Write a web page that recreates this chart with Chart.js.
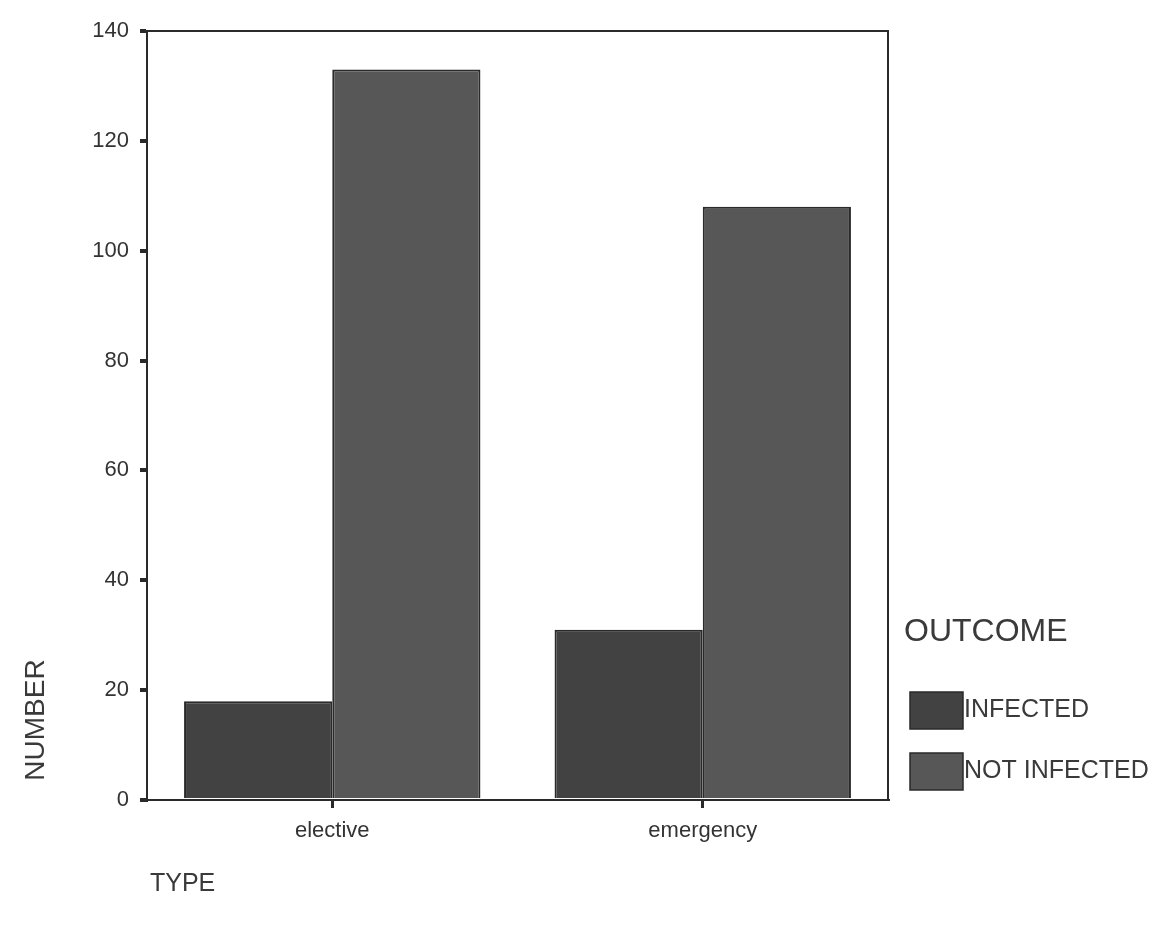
<!DOCTYPE html>
<html>
<head>
<meta charset="utf-8">
<script src="https://cdn.jsdelivr.net/npm/chart.js@4.4.0/dist/chart.umd.min.js"></script>
<style>
  body { margin: 0; background: #ffffff; }
  #wrap { width: 1166px; height: 930px; }
</style>
</head>
<body>
<div id="wrap"><canvas id="outcome-chart" width="1166" height="930"></canvas></div>
<script>
// values
const categories = ["elective", "emergency"];
const infected = [18, 31];
const not_infected = [133, 108];
const y_ticks = [0, 20, 40, 60, 80, 100, 120, 140];

const legend_title = "OUTCOME";
const series_names = ["INFECTED", "NOT INFECTED"];
const series_colors = ["#424242", "#575757"];

const ink = "#2a2a2a";
const font_family = "'Liberation Sans', Arial, sans-serif";

// box round the plot, axis titles and the legend on the right
const frame_plugin = {
    id: "frame",
    afterDraw(chart) {
        const c = chart.ctx;
        const a = chart.chartArea;
        c.save();
        c.strokeStyle = ink;
        c.lineWidth = 2;
        c.beginPath();
        c.moveTo(a.left, a.top);
        c.lineTo(a.right, a.top);
        c.lineTo(a.right, a.bottom);
        c.stroke();

        c.fillStyle = "#3a3a3a";
        c.font = "28px " + font_family;
        c.textAlign = "center";
        c.textBaseline = "middle";
        c.translate(36, 720);
        c.rotate(-Math.PI / 2);
        c.fillText("NUMBER", 0, 0);
        c.restore();

        c.save();
        c.fillStyle = "#3a3a3a";
        c.font = "25px " + font_family;
        c.textAlign = "left";
        c.textBaseline = "middle";
        c.fillText("TYPE", 150, 884);

        c.font = "32px " + font_family;
        c.fillText(legend_title, 904, 632);

        c.font = "25px " + font_family;
        const sets = chart.data.datasets;
        for (let i = 0; i < sets.length; i++) {
            const y = 710 + i * 61;
            c.fillStyle = sets[i].backgroundColor;
            c.fillRect(910, y - 18, 53, 37);
            c.strokeStyle = ink;
            c.lineWidth = 1.5;
            c.strokeRect(910, y - 18, 53, 37);
            c.fillStyle = "#3a3a3a";
            c.fillText(sets[i].label, 964, y);
        }
        c.restore();
    }
};

const data = {
    labels: categories,
    datasets: [{
        label: series_names[0],
        data: infected,
        backgroundColor: series_colors[0],
        borderColor: ink,
        borderWidth: 2
    }, {
        label: series_names[1],
        data: not_infected,
        backgroundColor: series_colors[1],
        borderColor: ink,
        borderWidth: 2
    }]
};

const options = {
    responsive: false,
    animation: false,
    layout: { padding: { left: 0, top: 31, right: 278, bottom: 0 } },
    datasets: {
        bar: { categoryPercentage: 0.8, barPercentage: 1.0 }
    },
    plugins: {
        legend: { display: false },
        tooltip: { enabled: false }
    },
    scales: {
        x: {
            grid: { offset: false, drawOnChartArea: false, color: ink, lineWidth: 3, tickLength: 8 },
            border: { color: ink, width: 2 },
            ticks: { color: "#333", font: { size: 22, family: font_family }, padding: 10 },
            afterFit(scale) { scale.height = 130; }
        },
        y: {
            min: 0,
            max: 140,
            afterBuildTicks(scale) { scale.ticks = y_ticks.map(v => ({ value: v })); },
            grid: { drawOnChartArea: false, color: ink, lineWidth: 4, tickLength: 7 },
            border: { color: ink, width: 2 },
            ticks: { color: "#333", font: { size: 22, family: font_family }, padding: 11 },
            afterFit(scale) { scale.width = 147; }
        }
    }
};

const outcome_chart = new Chart(document.getElementById("outcome-chart").getContext("2d"), {
    type: "bar",
    data: data,
    options: options,
    plugins: [frame_plugin]
});
</script>
</body>
</html>
